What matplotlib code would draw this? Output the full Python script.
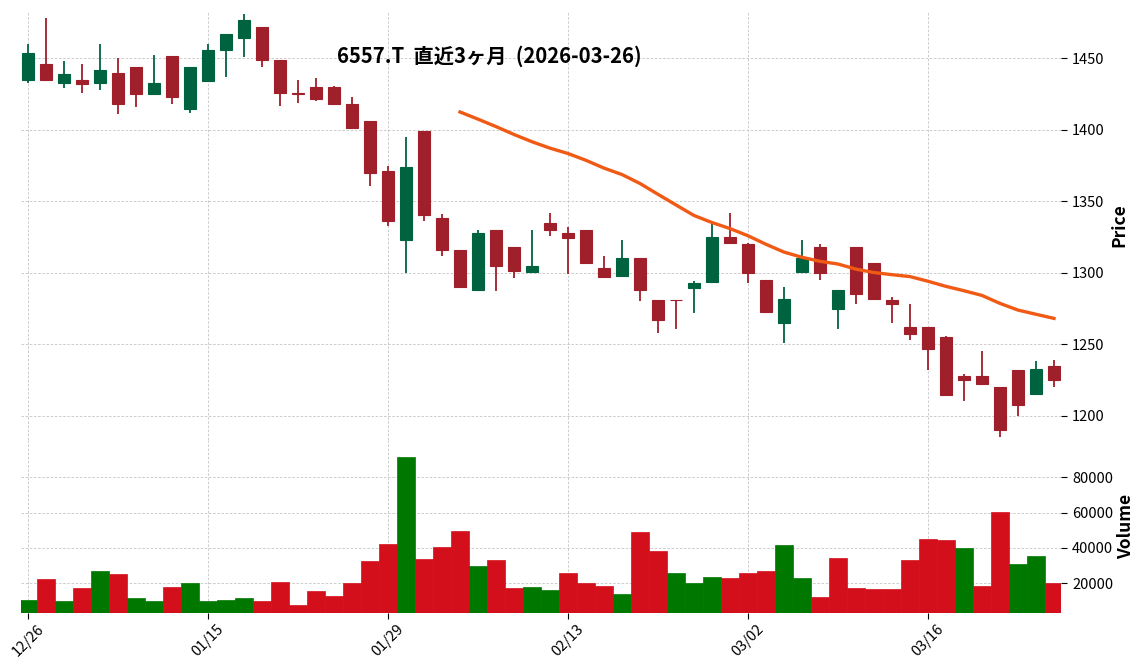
import matplotlib
matplotlib.use("Agg")
import matplotlib.pyplot as plt
import numpy as np
import pandas as pd

plt.rcParams['font.family'] = ['Noto Sans CJK JP', 'DejaVu Sans']

title = "6557.T  直近3ヶ月  (2026-03-26)"

dates = ['12/26', '12/29', '12/30', '01/05', '01/06', '01/07', '01/08', '01/09', '01/13', '01/14',
         '01/15', '01/16', '01/19', '01/20', '01/21', '01/22', '01/23', '01/26', '01/27', '01/28',
         '01/29', '01/30', '02/02', '02/03', '02/04', '02/05', '02/06', '02/09', '02/10', '02/12',
         '02/13', '02/16', '02/17', '02/18', '02/19', '02/20', '02/24', '02/25', '02/26', '02/27',
         '03/02', '03/03', '03/04', '03/05', '03/06', '03/09', '03/10', '03/11', '03/12', '03/13',
         '03/16', '03/17', '03/18', '03/19', '03/23', '03/24', '03/25', '03/26']

opens = [1435, 1446, 1433, 1434.6, 1433, 1439.5, 1443.7, 1425.5, 1451.4, 1415,
         1434, 1456, 1464, 1472, 1449, 1426, 1430.4, 1430.4, 1418.5, 1406.6,
         1371.6, 1323, 1399.6, 1338.7, 1316.3, 1288, 1330.3, 1318.4, 1301, 1335,
         1328, 1330.3, 1303.7, 1297.6, 1310.7, 1281.3, 1281.3, 1289.2, 1294, 1325.4,
         1320.5, 1295.3, 1264.7, 1301, 1318.4, 1274.5, 1318.4, 1307.2, 1281.3, 1262.4,
         1262.4, 1255.4, 1228, 1228, 1220.4, 1232.3, 1215.7, 1235]
highs = [1460, 1478, 1448, 1446, 1460, 1450, 1444, 1452.6, 1451.4, 1444,
         1460, 1467, 1481, 1472, 1449, 1435, 1436.5, 1431, 1423, 1406.6,
         1375, 1395.4, 1399.6, 1341.3, 1316.3, 1330, 1330.3, 1318.4, 1330, 1342,
         1332, 1330.3, 1312, 1323, 1310.7, 1281.3, 1281.3, 1294.6, 1334.7, 1342,
         1321, 1295.3, 1290, 1323.3, 1320.3, 1288.3, 1318.4, 1307.2, 1283, 1278.3,
         1262.4, 1256, 1229.7, 1245.6, 1220.4, 1232.3, 1238.6, 1239.3]
lows = [1433, 1434.8, 1429.5, 1426, 1428, 1411, 1416, 1425.5, 1418, 1412,
        1434, 1437, 1451, 1444, 1417, 1419, 1420.4, 1418.5, 1401.7, 1361,
        1332.6, 1300, 1336.6, 1312, 1289.5, 1288, 1287.4, 1296.5, 1301, 1326,
        1299.5, 1306.7, 1297, 1297.6, 1280.4, 1258, 1261, 1272, 1294, 1320.7,
        1293, 1272, 1250.7, 1301, 1295.3, 1261, 1278.3, 1281.5, 1265, 1253,
        1232.5, 1215, 1210.6, 1222.7, 1185.6, 1200, 1215.7, 1220.4]
closes = [1453.5, 1434.8, 1439, 1432, 1442, 1418, 1425.5, 1433, 1423.4, 1444,
          1456, 1467, 1477, 1449, 1426, 1425.5, 1422, 1418.5, 1401.7, 1369.7,
          1336, 1374.4, 1340.8, 1315.8, 1290, 1328.2, 1304.6, 1301.1, 1305.1, 1329.8,
          1324.2, 1306.7, 1296.9, 1310.7, 1287.8, 1266.8, 1281, 1293, 1325.4, 1320.7,
          1299.7, 1273, 1282, 1310.7, 1299.7, 1288.3, 1285, 1281.5, 1278, 1257,
          1246.5, 1215, 1225, 1222.7, 1190.5, 1208, 1233, 1225]
volumes = [10540, 22440, 9970, 17340, 26970, 25270, 11670, 9970, 17900, 20170,
           9970, 10540, 11670, 9970, 20740, 7700, 15640, 12800, 20170, 32640,
           42270, 91560, 33770, 40570, 49630, 29800, 33200, 17340, 17900, 16200,
           25840, 20170, 18470, 13940, 49070, 38300, 25840, 20170, 23570, 23000,
           25840, 26970, 41700, 23000, 12240, 34340, 17340, 16770, 16770, 33200,
           45100, 44530, 40000, 18470, 60400, 30940, 35470, 20170]

tick_dates = ['12/26', '01/15', '01/29', '02/13', '03/02', '03/16']
price_ticks = [1200, 1250, 1300, 1350, 1400, 1450]
volume_ticks = [20000, 40000, 60000, 80000]
ma_window = 25

UP_C = '#00633f'
DN_C = '#9f1f2b'
VUP_C = '#007800'
VDN_C = '#d40f1c'
MA_C = '#f05a14'
GRID_KW = dict(color='#c4c4c4', linestyle=(0, (3, 2)), linewidth=0.6)

o = np.array(opens); h = np.array(highs); l = np.array(lows); c = np.array(closes)
v = np.array(volumes)
x = np.arange(len(dates))

W, H = 1144, 670
fig = plt.figure(figsize=(W / 100, H / 100), dpi=100)
ax1 = fig.add_axes([21 / W, 230 / H, 1040 / W, 429 / H])
ax2 = fig.add_axes([21 / W, 57.3 / H, 1040 / W, 172.7 / H], sharex=ax1)

up = c >= o
ccol = np.where(up, UP_C, DN_C)
ax1.vlines(x, l, h, colors=ccol, linewidth=1.3, zorder=2)
bottoms = np.minimum(o, c)
heights = np.abs(c - o)
ax1.bar(x, heights, width=0.62, bottom=bottoms, color=ccol, edgecolor=ccol,
        linewidth=0.8, zorder=3)

ma = pd.Series(c).rolling(ma_window).mean()
ax1.plot(x, ma, color=MA_C, linewidth=2.4, zorder=4)

prev = np.concatenate([[c[0]], c[:-1]])
vcol = np.where(c >= prev, VUP_C, VDN_C)
ax2.bar(x, v, width=1.0, color=vcol, edgecolor=vcol, linewidth=0.5, zorder=3)

ax1.set_xlim(-0.39, len(dates) - 1 + 0.39)
ax1.set_ylim(1183.2, 1483.2)
ax2.set_ylim(3360, 101100)

for ax in (ax1, ax2):
    for s in ax.spines.values():
        s.set_visible(False)
    ax.yaxis.tick_right()
    ax.yaxis.set_label_position('right')
    ax.grid(True, **GRID_KW)
    ax.set_axisbelow(True)
    ax.tick_params(axis='y', direction='out', length=4, width=0.8, labelsize=10.5, pad=4)

ax1.set_yticks(price_ticks)
ax2.set_yticks(volume_ticks)

tick_pos = [dates.index(d) for d in tick_dates]
ax2.set_xticks(tick_pos)
ax2.set_xticklabels(tick_dates, rotation=45, ha='center', fontsize=10.5)
ax2.tick_params(axis='x', direction='out', length=4, width=0.8, pad=3)
ax1.tick_params(axis='x', length=0, labelbottom=False)

ax1.set_ylabel('Price', fontsize=12.5, fontweight='bold', labelpad=4)
ax2.set_ylabel('Volume', fontsize=12.5, fontweight='bold', labelpad=3)

fig.text(489 / W, 1 - 56 / H, title, ha='center', va='center', fontsize=14.6,
         fontweight='bold')

fig.savefig('out.png', dpi=100)
